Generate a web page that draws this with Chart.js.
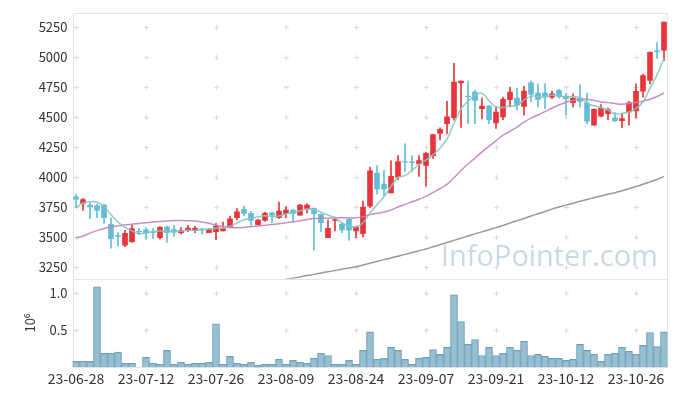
<!DOCTYPE html>
<html><head><meta charset="utf-8">
<script src="https://cdn.jsdelivr.net/npm/chart.js@4/dist/chart.umd.min.js"></script>
<style>html,body{margin:0;padding:0;background:#fff}#wrap{width:677px;height:396px}</style>
</head><body><div id="wrap"><canvas id="c" width="677" height="396"></canvas></div>
<script>
const dates=['23-06-28','23-06-29','23-06-30','23-07-03','23-07-04','23-07-05','23-07-06','23-07-07','23-07-10','23-07-11',
'23-07-12','23-07-13','23-07-14','23-07-17','23-07-18','23-07-19','23-07-20','23-07-21','23-07-24','23-07-25',
'23-07-26','23-07-27','23-07-28','23-07-31','23-08-01','23-08-02','23-08-03','23-08-04','23-08-07','23-08-08',
'23-08-09','23-08-10','23-08-11','23-08-14','23-08-16','23-08-17','23-08-18','23-08-21','23-08-22','23-08-23',
'23-08-24','23-08-25','23-08-28','23-08-29','23-08-30','23-08-31','23-09-01','23-09-04','23-09-05','23-09-06',
'23-09-07','23-09-08','23-09-11','23-09-12','23-09-13','23-09-14','23-09-15','23-09-18','23-09-19','23-09-20',
'23-09-21','23-09-22','23-09-25','23-09-26','23-09-27','23-10-04','23-10-05','23-10-06','23-10-10','23-10-11',
'23-10-12','23-10-13','23-10-16','23-10-17','23-10-18','23-10-19','23-10-20','23-10-23','23-10-24','23-10-25',
'23-10-26','23-10-27','23-10-30','23-10-31','23-11-01'];
const openP=[3835,3780,3766,3763,3766,3606,3512,3432,3462,3548,3559,3545,3495,3584,3561,3536,3556,3556,3568,3536,
3545,3550,3578,3661,3730,3697,3603,3639,3702,3661,3694,3724,3683,3735,3739,3689,3495,3639,3606,3647,
3550,3528,3758,4033,3942,3868,4000,4130,4128,4111,4097,4180,4365,4447,4497,4787,4677,4710,4571,4594,
4453,4503,4646,4660,4591,4787,4701,4701,4668,4724,4677,4621,4660,4621,4434,4509,4530,4494,4472,4544,
4552,4718,4807,5055,5060];
const highP=[3858,3821,3785,3772,3772,3661,3536,3556,3600,3573,3578,3570,3586,3592,3598,3578,3598,3589,3570,3570,
3615,3625,3675,3738,3758,3715,3647,3708,3708,3791,3752,3730,3772,3780,3743,3694,3642,3666,3619,3656,
3592,3799,4083,4097,4056,4136,4180,4277,4180,4180,4207,4360,4412,4633,4950,4805,4801,4724,4660,4600,
4591,4668,4751,4743,4757,4801,4778,4778,4718,4732,4700,4696,4770,4701,4571,4605,4577,4538,4530,4633,
4778,4861,5047,5124,5295];
const lowP=[3745,3722,3652,3661,3614,3407,3426,3420,3455,3523,3482,3487,3482,3454,3505,3523,3545,3536,3523,3536,
3478,3550,3578,3642,3675,3597,3600,3630,3619,3656,3661,3633,3683,3702,3391,3545,3495,3550,3536,3474,
3495,3500,3743,3860,3845,3868,3979,4047,4047,4006,3923,4157,4310,4360,4475,4414,4447,4447,4485,4447,
4406,4480,4586,4560,4517,4627,4586,4571,4654,4660,4517,4586,4586,4447,4434,4503,4480,4462,4412,4434,
4494,4668,4778,4991,4972];
const closeP=[3815,3813,3752,3722,3661,3487,3505,3531,3570,3543,3532,3537,3581,3536,3540,3553,3575,3573,3564,3565,
3592,3570,3652,3710,3697,3639,3642,3697,3683,3716,3724,3694,3766,3766,3694,3619,3573,3645,3559,3556,
3584,3749,4053,3901,3901,4006,4130,4125,4120,4138,4199,4356,4398,4503,4793,4801,4672,4641,4594,4480,
4544,4649,4710,4600,4718,4691,4649,4674,4696,4674,4654,4660,4633,4467,4567,4577,4563,4470,4489,4621,
4716,4848,5041,5045,5295];
const volume=[80000,80000,80000,1090000,190000,190000,205000,55000,55000,0,
135000,55000,40000,230000,40000,67000,40000,55000,55000,67000,
590000,40000,148000,55000,40000,67000,27000,40000,40000,107000,
40000,94000,67000,55000,120000,190000,160000,40000,40000,94000,
40000,230000,480000,107000,120000,270000,230000,107000,40000,120000,
134000,240000,175000,270000,980000,620000,310000,376000,160000,270000,
160000,190000,270000,230000,350000,160000,175000,148000,120000,120000,
94000,107000,310000,230000,175000,80000,175000,190000,270000,215000,
175000,296000,470000,280000,480000];
const ma5=[3743,3785,3795,3790,3753,3687,3625,3581,3551,3527,3536,3543,3553,3546,3545,3549,3557,3555,3561,3566,
3574,3573,3589,3618,3644,3654,3668,3677,3672,3675,3692,3703,3717,3733,3729,3708,3684,3659,3618,3590,
3583,3619,3700,3769,3838,3922,3998,4013,4056,4104,4142,4188,4242,4319,4450,4570,4633,4682,4700,4638,
4586,4582,4595,4597,4644,4674,4674,4666,4686,4677,4669,4672,4663,4618,4596,4581,4561,4529,4533,4544,
4572,4629,4743,4854,4989];
const ma20=[3492,3509,3532,3553,3571,3585,3594,3601,3607,3613,3619,3625,3630,3634,3637,3638,3636,3633,3625,3614,
3598,3587,3580,3578,3580,3585,3592,3599,3605,3611,3619,3626,3635,3646,3654,3657,3657,3660,3660,3660,
3660,3668,3688,3698,3708,3726,3751,3772,3794,3815,3839,3872,3904,3940,3995,4055,4109,4159,4211,4257,
4305,4350,4383,4418,4459,4493,4519,4547,4575,4602,4625,4640,4652,4650,4639,4628,4622,4614,4608,4615,
4624,4634,4650,4673,4702];
const ma120=[null,null,null,null,null,null,null,null,null,null,null,null,null,null,null,null,null,null,null,null,
null,null,null,null,null,null,null,null,3125,3135,3146,3156,3167,3178,3188,3199,3210,3220,3231,3241,
3252,3266,3281,3296,3311,3325,3340,3355,3370,3385,3400,3418,3436,3454,3472,3490,3508,3526,3543,3561,
3578,3597,3617,3636,3655,3675,3694,3713,3733,3750,3766,3782,3798,3813,3828,3843,3857,3870,3886,3903,
3921,3940,3960,3980,4006];
const priceTicks=[3250,3500,3750,4000,4250,4500,4750,5000,5250];
const volTicks=[500000,1000000];
const labelEvery=10;
const watermark='InfoPointer.com';

const RED='#e8353b', BLUE='#63bdd6';
const candleColors=closeP.map((c,i)=>c>=openP[i]?RED:BLUE);
const FONT='"Noto Sans CJK KR","Noto Sans",sans-serif';

const deco={
  id:'deco',
  beforeDatasetsDraw(chart){
    const {ctx,chartArea:a,scales}=chart;
    const x=scales.x,y=scales.y,yv=scales.yv;
    ctx.save();
    ctx.font='29px "Open Sans"';
    const w=ctx.measureText(watermark).width;
    const fs=29*217/w;
    ctx.font=fs.toFixed(2)+'px "Open Sans"';
    ctx.fillStyle='#c9dae4';
    ctx.textBaseline='alphabetic';
    ctx.fillText(watermark,441,266);
    ctx.strokeStyle='#dcdcdc';ctx.lineWidth=1;
    const cross=(px,py)=>{ctx.beginPath();ctx.moveTo(px-2.5,py);ctx.lineTo(px+2.5,py);ctx.moveTo(px,py-2.5);ctx.lineTo(px,py+2.5);ctx.stroke();};
    for(let i=0;i<dates.length;i+=labelEvery){
      const px=Math.round(x.getPixelForValue(i))+0.5;
      priceTicks.forEach(v=>cross(px,Math.round(y.getPixelForValue(v))+0.5));
      volTicks.forEach(v=>cross(px,Math.round(yv.getPixelForValue(v))+0.5));
    }
    ctx.strokeStyle='#e4e4e4';
    ctx.strokeRect(Math.round(a.left)+0.5,Math.round(y.top)+0.5,Math.round(a.right-a.left)-1,Math.round(y.bottom-y.top));
    ctx.strokeRect(Math.round(a.left)+0.5,Math.round(yv.top)+0.5,Math.round(a.right-a.left)-1,Math.round(yv.bottom-yv.top)-1);
    ctx.restore();
  }
};

new Chart(document.getElementById('c'),{
  data:{
    labels:dates,
    datasets:[
      {type:'line',data:ma5,yAxisID:'y',borderColor:'rgba(130,200,190,0.9)',borderWidth:1.5,pointRadius:0,tension:0.4,order:0},
      {type:'line',data:ma20,yAxisID:'y',borderColor:'rgba(196,130,192,0.9)',borderWidth:1.5,pointRadius:0,tension:0.4,order:0},
      {type:'line',data:ma120,yAxisID:'y',borderColor:'#9a9a9a',borderWidth:1.5,pointRadius:0,tension:0.4,order:0},
      {type:'bar',data:openP.map((o,i)=>[o,closeP[i]]),yAxisID:'y',backgroundColor:candleColors,barThickness:5,grouped:false,order:1,borderWidth:0},
      {type:'bar',data:lowP.map((l,i)=>[l,highP[i]]),yAxisID:'y',backgroundColor:candleColors,barThickness:1,grouped:false,order:2,borderWidth:0},
      {type:'bar',data:volume,yAxisID:'yv',backgroundColor:'rgba(140,184,204,0.9)',borderColor:'#6f9fb8',borderWidth:1,categoryPercentage:1,barPercentage:1,grouped:false,order:3}
    ]
  },
  options:{
    responsive:false,animation:false,events:[],
    layout:{padding:{top:10,right:9.5,bottom:0,left:0}},
    plugins:{legend:{display:false},tooltip:{enabled:false}},
    scales:{
      x:{type:'category',offset:true,grid:{display:false,drawTicks:false},border:{display:false},
        ticks:{autoSkip:false,maxRotation:0,minRotation:0,padding:3,color:'#333',font:{family:FONT,size:14},
          callback:(v,i)=>i%labelEvery===0?dates[i]:null},
        afterFit:s=>{s.height=28.7;}},
      yv:{type:'linear',position:'left',stack:'p',stackWeight:1,min:0,max:1200000,
        afterBuildTicks:s=>{s.ticks=volTicks.map(v=>({value:v}));},
        grid:{display:false,drawTicks:false},border:{display:false},
        ticks:{autoSkip:false,padding:5,color:'#333',font:{family:FONT,size:13},callback:v=>(v/1e6).toFixed(1)},
        title:{display:true,text:'10⁶',color:'#333',font:{family:FONT,size:13},padding:{top:22,bottom:0}},
        afterFit:s=>{s.width=72.5;}},
      y:{type:'linear',position:'left',stack:'p',stackWeight:3,min:3152,max:5372,
        afterBuildTicks:s=>{s.ticks=priceTicks.map(v=>({value:v}));},
        grid:{display:false,drawTicks:false},border:{display:false},
        ticks:{autoSkip:false,padding:5,color:'#333',font:{family:FONT,size:13},callback:v=>String(v)},
        afterFit:s=>{s.width=72.5;}}
    }
  },
  plugins:[deco]
});
</script>
</body></html>
